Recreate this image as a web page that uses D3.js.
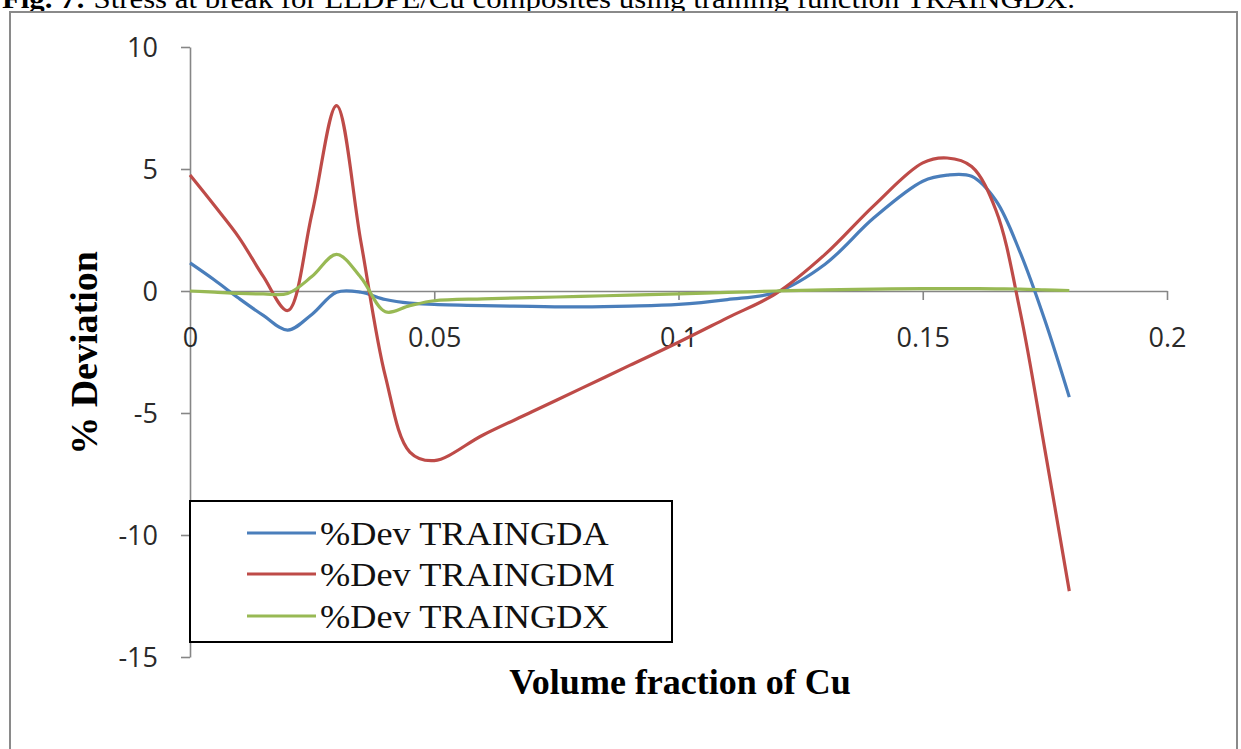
<!DOCTYPE html>
<html>
<head>
<meta charset="utf-8">
<script src="https://cdn.jsdelivr.net/npm/d3@7"></script>
<style>
  html, body { margin: 0; padding: 0; background: #fff; }
  svg { display: block; }
</style>
</head>
<body>
<svg id="chart" width="1241" height="749"></svg>
<script>
// ---- data ----
const volumeFraction = [0, 0.005, 0.01, 0.015, 0.02, 0.025, 0.03, 0.035, 0.04, 0.045, 0.05,
  0.06, 0.07, 0.08, 0.09, 0.1, 0.11, 0.12, 0.13, 0.14, 0.15, 0.155, 0.16, 0.165, 0.17, 0.175, 0.18];
const devTRAINGDA = [1.15, 0.45, -0.3, -1.0, -1.6, -0.95, -0.05, -0.05, -0.35, -0.5, -0.55,
  -0.6, -0.63, -0.65, -0.62, -0.55, -0.35, -0.05, 1.1, 3.0, 4.5, 4.75, 4.7, 3.7, 1.55, -1.2, -4.35];
const devTRAINGDM = [4.75, 3.5, 2.2, 0.6, -0.8, 3.2, 7.6, 2.0, -3.5, -6.6, -6.95,
  -5.9, -4.95, -4.0, -3.05, -2.1, -1.1, -0.1, 1.5, 3.5, 5.25, 5.45, 5.1, 3.3, -0.9, -6.5, -12.3];
const devTRAINGDX = [0.0, -0.05, -0.1, -0.12, -0.1, 0.6, 1.5, 0.55, -0.85, -0.6, -0.4,
  -0.32, -0.27, -0.22, -0.17, -0.12, -0.06, 0.0, 0.05, 0.08, 0.1, 0.1, 0.1, 0.09, 0.08, 0.05, 0.02];
const seriesNames = ["%Dev TRAINGDA", "%Dev TRAINGDM", "%Dev TRAINGDX"];
const seriesColors = ["#4a7ebb", "#be4b48", "#98b954"];
const xTicks = [0, 0.05, 0.1, 0.15, 0.2];
const xTickLabels = ["0", "0.05", "0.1", "0.15", "0.2"];
const yTicks = [-15, -10, -5, 0, 5, 10];
const yTickLabels = ["-15", "-10", "-5", "0", "5", "10"];
const captionBold = "Fig. 7:";
const captionText = " Stress at break for LLDPE/Cu composites using training function TRAINGDX.";
const xTitle = "Volume fraction of Cu";
const yTitle = "% Deviation";

// ---- drawing ----
const svg = d3.select("#chart");
svg.append("rect").attr("width", 1241).attr("height", 749).attr("fill", "#fff");

// caption (cut off at the top, as in the reference)
const cap = svg.append("text")
  .attr("x", 2).attr("y", 8)
  .attr("font-family", "'Liberation Serif', 'Times New Roman', serif")
  .attr("font-size", 27).attr("fill", "#000")
  .attr("textLength", 1073).attr("lengthAdjust", "spacingAndGlyphs");
cap.append("tspan").attr("font-weight", "bold").text(captionBold);
cap.append("tspan").text(captionText);

// outer chart frame
svg.append("rect")
  .attr("x", 10).attr("y", 12).attr("width", 1227).attr("height", 760)
  .attr("fill", "#fff").attr("stroke", "#8a8a8a").attr("stroke-width", 2);

const x = d3.scaleLinear().domain([0, 0.2]).range([190, 1167]);
const y = d3.scaleLinear().domain([-15, 10]).range([657, 47]);

const axisColor = "#868686";
const tickFont = "'Open Sans', 'Noto Sans', sans-serif";

// y axis
const yAxis = svg.append("g").attr("transform", `translate(${x(0)},0)`)
  .call(d3.axisLeft(y).tickValues(yTicks).tickSize(9).tickSizeOuter(0)
    .tickFormat((d, i) => yTickLabels[i]));
yAxis.select(".domain").attr("stroke", axisColor).attr("stroke-width", 1.6);
yAxis.selectAll(".tick line").attr("stroke", axisColor).attr("stroke-width", 1.6);
yAxis.selectAll(".tick text")
  .attr("x", -32).attr("dy", "0.35em")
  .attr("font-family", tickFont).attr("font-size", 27).attr("fill", "#2a2a2a");

// x axis at y = 0
const xAxis = svg.append("g").attr("transform", `translate(0,${y(0)})`)
  .call(d3.axisBottom(x).tickValues(xTicks).tickSize(9).tickSizeOuter(0)
    .tickFormat((d, i) => xTickLabels[i]));
xAxis.select(".domain").attr("stroke", axisColor).attr("stroke-width", 1.6);
xAxis.selectAll(".tick line").attr("stroke", axisColor).attr("stroke-width", 1.6);
xAxis.selectAll(".tick text")
  .attr("y", 56).attr("dy", 0)
  .attr("font-family", tickFont).attr("font-size", 27).attr("fill", "#2a2a2a");

// series
const allSeries = [devTRAINGDA, devTRAINGDM, devTRAINGDX];
const line = d3.line()
  .x((d, i) => x(volumeFraction[i]))
  .y(d => y(d))
  .curve(d3.curveCatmullRom.alpha(0.5));
svg.append("g").selectAll("path").data(allSeries).join("path")
  .attr("d", line)
  .attr("fill", "none")
  .attr("stroke", (d, i) => seriesColors[i])
  .attr("stroke-width", 3.2)
  .attr("stroke-linejoin", "round");

// legend
const lg = svg.append("g");
lg.append("rect").attr("x", 190).attr("y", 501).attr("width", 482).attr("height", 141)
  .attr("fill", "#fff").attr("stroke", "#000").attr("stroke-width", 2);
const rowY = [533, 574, 616];
seriesNames.forEach((name, i) => {
  lg.append("line").attr("x1", 247).attr("x2", 316).attr("y1", rowY[i]).attr("y2", rowY[i])
    .attr("stroke", seriesColors[i]).attr("stroke-width", 3.2);
  const t = lg.append("text").attr("x", 320).attr("y", rowY[i] + 12)
    .attr("font-family", "'Liberation Serif', 'Times New Roman', serif")
    .attr("font-size", 33).attr("fill", "#111").text(name);
  const w = t.node().getComputedTextLength();
  t.attr("textLength", w * 1.1).attr("lengthAdjust", "spacingAndGlyphs");
});

// axis titles
svg.append("text")
  .attr("x", 680).attr("y", 694).attr("text-anchor", "middle")
  .attr("font-family", "'Liberation Serif', 'Times New Roman', serif")
  .attr("font-weight", "bold").attr("font-size", 36).attr("fill", "#000")
  .text(xTitle);
svg.append("text")
  .attr("transform", "translate(97,353) rotate(-90)").attr("text-anchor", "middle")
  .attr("font-family", "'Liberation Serif', 'Times New Roman', serif")
  .attr("font-weight", "bold").attr("font-size", 38).attr("fill", "#000")
  .text(yTitle);
</script>
</body>
</html>
